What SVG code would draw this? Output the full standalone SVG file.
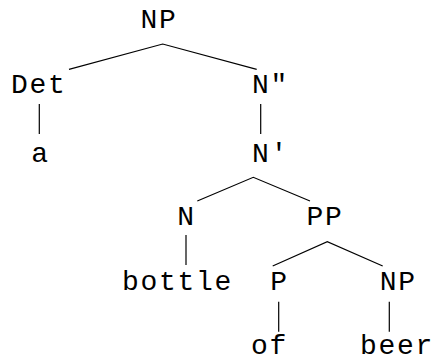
<svg xmlns="http://www.w3.org/2000/svg" width="435" height="362" viewBox="0 0 435 362">
<style>
text{font-family:"Liberation Mono","Courier New",monospace;font-size:28px;letter-spacing:1.7px;fill:#000;text-anchor:middle}
.e{stroke:#000;stroke-width:1.2;fill:none}
</style>
<rect width="435" height="362" fill="#fff"/>
<g id="connectors">
<polyline class="e" points="69,69.3 162.7,44 256.7,69.3"/>
<line class="e" x1="39.3" y1="104" x2="39.3" y2="134"/>
<line class="e" x1="260.7" y1="104" x2="260.7" y2="134"/>
<polyline class="e" points="197.3,201 253.3,177.3 310,201"/>
<line class="e" x1="186" y1="235" x2="186" y2="265"/>
<polyline class="e" points="272.7,266 327.3,241.7 382.7,266"/>
<line class="e" x1="278.7" y1="301.7" x2="278.7" y2="331.7"/>
<line class="e" x1="389.3" y1="301.7" x2="389.3" y2="331.7"/>
</g>
<g id="np-top"><text x="158.9" y="28.3">NP</text></g>
<g id="det"><text x="38.7" y="93.3">Det</text></g>
<g id="a"><text x="40.4" y="161.7">a</text></g>
<g id="n-bar2"><text x="252" y="93.3" style="text-anchor:start">N″</text></g>
<g id="n-bar1"><text x="252" y="161.7" style="text-anchor:start">N′</text></g>
<g id="n"><text x="186.6" y="225">N</text></g>
<g id="pp"><text x="325" y="225">PP</text></g>
<g id="bottle"><text x="177.5" y="290">bottle</text></g>
<g id="p"><text x="279.6" y="290">P</text></g>
<g id="np-low"><text x="398.3" y="290">NP</text></g>
<g id="of"><text x="269.6" y="353.5">of</text></g>
<g id="beer"><text x="397.1" y="353.5">beer</text></g>
</svg>
